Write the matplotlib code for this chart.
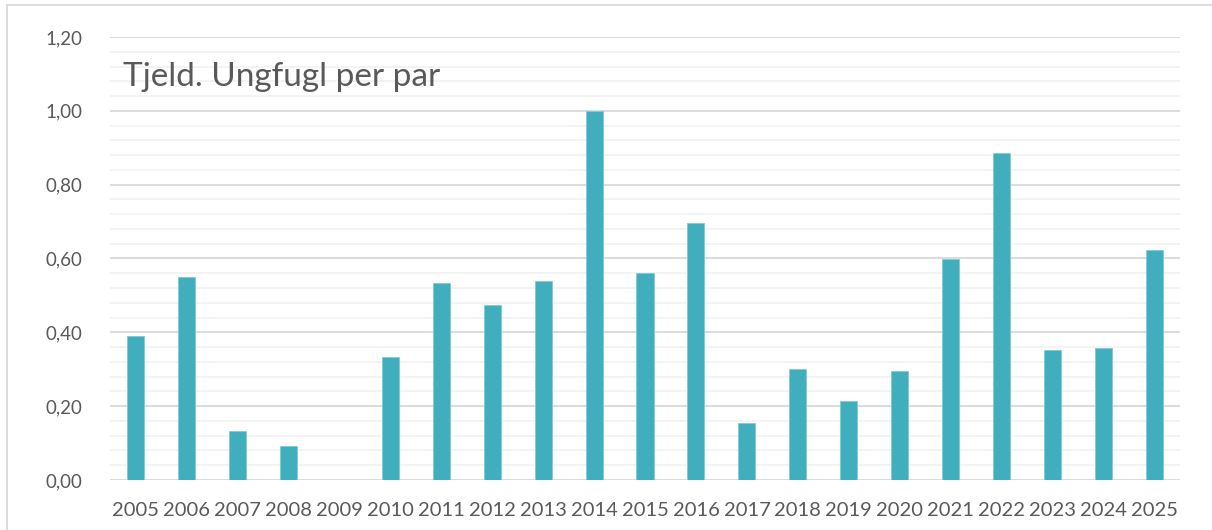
import matplotlib
matplotlib.use("Agg")
import matplotlib.pyplot as plt
from matplotlib.patches import Rectangle
from matplotlib.ticker import MultipleLocator, FuncFormatter

years = [str(y) for y in range(2005, 2026)]
values = [0.39, 0.55, 0.134, 0.091, 0.0, 0.332, 0.533, 0.473, 0.538, 1.00,
          0.562, 0.695, 0.154, 0.30, 0.214, 0.294, 0.599, 0.887, 0.352, 0.357, 0.624]
title = "Tjeld. Ungfugl per par"

bar_color = "#41AEBD"
text_color = "#595959"

plt.rcParams['font.family'] = ['Lato', 'DejaVu Sans']

fig = plt.figure(figsize=(12.12, 5.30), dpi=100)
ax = fig.add_axes([110/1212, 1-480/530, 1070/1212, 443/530])

x = range(len(years))
ax.bar(x, values, width=0.335, color=bar_color, edgecolor="#7FCCD6", linewidth=0.6, zorder=3)

ax.set_xlim(-0.5, len(years) - 0.5)
ax.set_ylim(0, 1.2)
ax.yaxis.set_major_locator(MultipleLocator(0.2))
ax.yaxis.set_minor_locator(MultipleLocator(0.04))
ax.yaxis.set_major_formatter(FuncFormatter(lambda v, p: f"{v:.2f}".replace(".", ",")))
ax.grid(axis='y', which='major', color="#D9D9D9", linewidth=1.3, zorder=0)
ax.grid(axis='y', which='minor', color="#F2F2F2", linewidth=1.3, zorder=0)

ax.set_xticks(list(x))
ax.set_xticklabels(years)
for s in ax.spines.values():
    s.set_visible(False)
ax.tick_params(axis='both', which='both', length=0, colors=text_color)
ax.tick_params(axis='y', pad=20, labelsize=13.5)
ax.tick_params(axis='x', pad=16, labelsize=14.5)

ax.text(13/1070, (480-86)/443, title, transform=ax.transAxes,
        fontsize=24, color=text_color, ha='left', va='baseline', zorder=5)

fig.patches.append(Rectangle((7/1212, -0.1), 1.2, (1-5/530) + 0.1, transform=fig.transFigure,
                             fill=False, edgecolor="#D9D9D9", linewidth=1.3))

fig.savefig("out.png", dpi=100)
